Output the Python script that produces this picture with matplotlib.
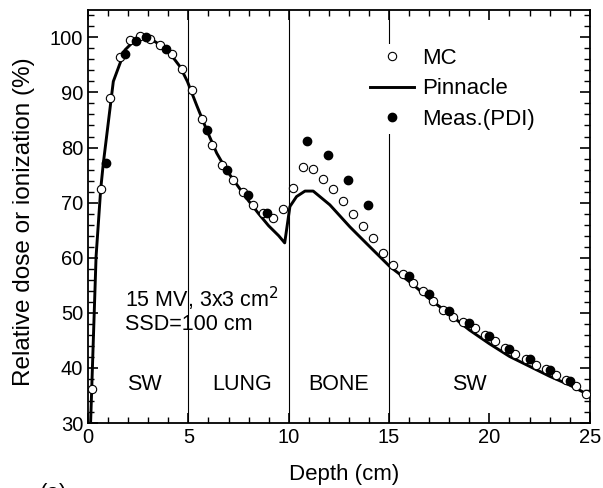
import numpy as np
import matplotlib as mpl
import matplotlib.pyplot as plt
from matplotlib.ticker import MultipleLocator

plt.rcParams['font.family'] = ['Liberation Sans', 'DejaVu Sans']

#%% data
mc_depth = [0.2, 0.65, 1.1, 1.6, 2.1, 2.6, 3.1, 3.6, 4.2, 4.7,
            5.2, 5.7, 6.2, 6.7, 7.2, 7.7, 8.2, 8.7, 9.2, 9.7,
            10.2, 10.7, 11.2, 11.7, 12.2, 12.7, 13.2, 13.7, 14.2, 14.7,
            15.2, 15.7, 16.2, 16.7, 17.2, 17.7, 18.2, 18.7, 19.3, 19.8,
            20.3, 20.8, 21.3, 21.8, 22.3, 22.8, 23.3, 23.8, 24.3, 24.8]
mc_dose = [36.1, 72.4, 89.0, 96.4, 99.5, 100.2, 99.7, 98.6, 96.9, 94.2,
           90.4, 85.1, 80.5, 76.8, 74.2, 71.9, 69.6, 68.2, 67.3, 68.9,
           72.7, 76.5, 76.1, 74.3, 72.4, 70.3, 68.0, 65.8, 63.6, 60.8,
           58.7, 57.0, 55.4, 53.9, 52.2, 50.6, 49.3, 48.4, 47.2, 45.9,
           44.9, 43.7, 42.6, 41.7, 40.6, 39.8, 38.7, 37.9, 36.8, 35.3]

pin_depth = [0.1, 0.4, 0.63, 0.76, 1.26, 1.84, 2.42, 2.89, 3.59, 4.08,
             4.58, 4.95, 5.41, 5.91, 6.41, 6.9, 7.9, 8.5, 9.0, 9.5,
             9.8, 10.06, 10.39, 10.81, 11.22, 12.05, 13.05, 14.04, 15.04, 16.04,
             17.1, 18.0, 19.0, 20.0, 21.0, 22.0, 23.0, 24.0, 24.9]
pin_dose = [27.0, 60.2, 72.4, 77.1, 92.0, 97.7, 99.8, 100.3, 98.6, 97.1,
            94.7, 92.0, 87.7, 83.2, 79.0, 75.9, 70.8, 68.0, 65.8, 64.0,
            62.7, 69.3, 71.1, 72.1, 72.1, 69.6, 65.6, 62.0, 58.4, 55.6,
            52.3, 49.8, 46.9, 44.4, 42.1, 40.3, 38.5, 36.9, 35.2]

meas_depth = [0.9, 1.86, 2.37, 2.89, 3.87, 5.91, 6.94, 7.95, 8.93,
              10.92, 11.97, 12.96, 13.96,
              16.0, 17.0, 18.0, 19.0, 20.0, 21.0, 22.0, 23.0, 24.0]
meas_dose = [77.2, 97.0, 99.3, 100.1, 97.9, 83.2, 75.9, 71.3, 68.2,
             81.1, 78.6, 74.1, 69.6,
             56.7, 53.4, 50.4, 48.2, 45.8, 43.5, 41.6, 39.6, 37.6]

boundaries = [5, 10, 15]
regions = ['SW', 'LUNG', 'BONE', 'SW']
region_x = [2.8, 7.7, 12.5, 19.0]

#%% plot
fig = plt.figure(figsize=(6.03, 4.88), dpi=100)
ax = fig.add_axes([0.146, 0.133, 0.832, 0.847])

for b in boundaries:
    ax.axvline(b, color='black', lw=0.8, zorder=1)

ax.plot(pin_depth, pin_dose, '-', color='black', lw=2.1, label='Pinnacle', zorder=2)
ax.plot(mc_depth, mc_dose, 'o', mfc='white', mec='black', mew=0.8, ms=6, label='MC', zorder=3)
ax.plot(meas_depth, meas_dose, 'o', color='black', ms=6, label='Meas.(PDI)', zorder=4)

for name, x in zip(regions, region_x):
    ax.text(x, 37.0, name, ha='center', va='center', fontsize=15.5)

ax.text(1.85, 50.6, '15 MV, 3x3 cm$^2$\nSSD=100 cm', ha='left', va='center',
        fontsize=15.5, linespacing=1.05)

ax.set_xlim(0, 25)
ax.set_ylim(30, 105)
ax.xaxis.set_major_locator(MultipleLocator(5))
ax.xaxis.set_minor_locator(MultipleLocator(1))
ax.yaxis.set_major_locator(MultipleLocator(10))
ax.yaxis.set_minor_locator(MultipleLocator(2))
ax.set_yticks(np.arange(30, 101, 10))
ax.tick_params(which='both', direction='in', top=True, right=True, labelsize=14.5)
ax.tick_params(which='major', length=7, width=1.2)
ax.tick_params(which='minor', length=4, width=1.0)
for s in ax.spines.values():
    s.set_linewidth(1.3)

ax.set_xlabel('Depth (cm)', fontsize=16)
ax.set_ylabel('Relative dose or ionization (%)', fontsize=17.5)
ax.xaxis.set_label_coords(0.51, -0.10)
ax.yaxis.set_label_coords(-0.105, 0.488)

handles, labels = ax.get_legend_handles_labels()
order = [1, 0, 2]
leg = ax.legend([handles[i] for i in order], [labels[i] for i in order],
                loc='upper left', bbox_to_anchor=(0.553, 0.918), fontsize=16,
                handlelength=2.0, handletextpad=0.35, labelspacing=0.42,
                borderpad=0.2, borderaxespad=0, frameon=True, fancybox=False)
leg.get_frame().set_edgecolor('none')
leg.get_frame().set_facecolor('white')
leg.get_frame().set_alpha(1)

fig.text(0.065, 0.011, '(a)', va='top', ha='left', fontsize=16)

fig.savefig('out.png', dpi=100)
